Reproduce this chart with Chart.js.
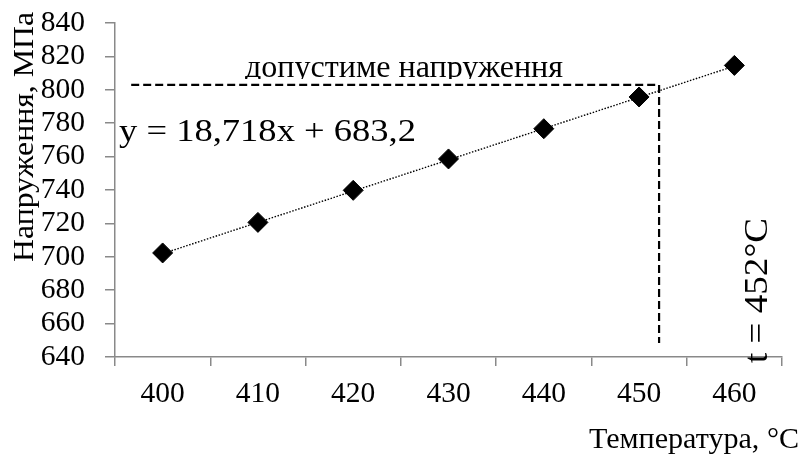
<!DOCTYPE html>
<html>
<head>
<meta charset="utf-8">
<script src="https://cdn.jsdelivr.net/npm/chart.js@4"></script>
<style>
  html, body { margin: 0; padding: 0; background: #fff; }
  #wrap { width: 803px; height: 455px; }
</style>
</head>
<body>
<div id="wrap"><canvas id="c" width="803" height="455"></canvas></div>
<script>
// ---- data ----
const temperatures = [400, 410, 420, 430, 440, 450, 460];
const tickLabels = ['400', '410', '420', '430', '440', '450', '460'];
const stresses = [702.3, 720.6, 739.8, 758.6, 776.7, 795.7, 814.6];
const trendX = [400, 460];
const trendY = [701.9, 814.2];
const allowX = [396.7, 452.1, 452.1];
const allowY = [803, 803, 648.4];
const yTitle = 'Напруження, МПа';
const xTitle = 'Температура, °C';
const equationText = 'y = 18,718x + 683,2';
const allowText = 'допустиме напруження';
const tText = 't = 452°C';

const FONT = '"Liberation Serif", "Times New Roman", serif';
const AXIS = '#898989';

const pts = (xs, ys) => xs.map((x, i) => ({ x: x, y: ys[i] }));

// draw text with a horizontal stretch so that it spans the given length
function fitText(ctx, text, size, length) {
  ctx.font = size + 'px ' + FONT;
  const w = ctx.measureText(text).width;
  const k = length / w;
  ctx.scale(k, 1);
  ctx.fillText(text, 0, 0);
}

const annot = {
  id: 'annot',
  afterDraw(chart) {
    const ctx = chart.ctx;
    ctx.save();
    ctx.fillStyle = '#000';
    ctx.textBaseline = 'alphabetic';
    ctx.textAlign = 'left';
    // y axis title (reads bottom to top)
    ctx.save();
    ctx.translate(33, 262);
    ctx.rotate(-Math.PI / 2);
    fitText(ctx, yTitle, 30, 250);
    ctx.restore();
    // x axis title
    ctx.save();
    ctx.translate(589, 448);
    fitText(ctx, xTitle, 30, 210);
    ctx.restore();
    // equation
    ctx.save();
    ctx.translate(119, 141);
    fitText(ctx, equationText, 31, 297);
    ctx.restore();
    // allowable stress label (clipped at bottom like the reference)
    ctx.save();
    ctx.beginPath();
    ctx.rect(200, 40, 420, 39);
    ctx.clip();
    ctx.translate(245, 77);
    fitText(ctx, allowText, 31, 318);
    ctx.restore();
    // t label
    ctx.save();
    ctx.translate(767, 363);
    ctx.rotate(-Math.PI / 2);
    fitText(ctx, tText, 33, 145);
    ctx.restore();
    ctx.restore();
  }
};

new Chart(document.getElementById('c'), {
  type: 'scatter',
  data: {
    datasets: [
      {
        label: 'stress',
        data: pts(temperatures, stresses),
        xAxisID: 'xl',
        pointStyle: 'rectRot',
        pointRadius: 10,
        pointBackgroundColor: '#000',
        pointBorderColor: '#000',
        pointBorderWidth: 1,
        showLine: false
      },
      {
        label: 'trend',
        data: pts(trendX, trendY),
        xAxisID: 'xl',
        showLine: true,
        borderColor: '#000',
        borderWidth: 1.4,
        borderDash: [1.5, 1.6],
        pointRadius: 0
      },
      {
        label: 'allow',
        data: pts(allowX, allowY),
        xAxisID: 'xl',
        showLine: true,
        borderColor: '#000',
        borderWidth: 2.2,
        borderDash: [8, 4],
        pointRadius: 0,
        tension: 0
      }
    ]
  },
  options: {
    responsive: false,
    animation: false,
    devicePixelRatio: 1,
    layout: { padding: { top: 23, right: 21, left: 0, bottom: 0 } },
    plugins: { legend: { display: false }, tooltip: { enabled: false } },
    scales: {
      x: {
        type: 'category',
        labels: tickLabels,
        position: 'bottom',
        offset: true,
        grid: { offset: true, drawOnChartArea: false, tickLength: 9, color: AXIS, lineWidth: 1.5 },
        border: { color: AXIS, width: 1.5 },
        ticks: { color: '#000', font: { family: FONT, size: 29.5 }, padding: 11, maxRotation: 0, autoSkip: false },
        afterFit: s => { s.height = 98; s.paddingLeft = 0; s.paddingRight = 0; }
      },
      xl: {
        type: 'linear',
        display: false,
        min: 395,
        max: 465
      },
      y: {
        type: 'linear',
        min: 640,
        max: 840,
        ticks: { stepSize: 20, autoSkip: false, color: '#000', font: { family: FONT, size: 29.5 }, padding: 20 },
        grid: { drawOnChartArea: false, tickLength: 10, color: AXIS, lineWidth: 1.5 },
        border: { color: AXIS, width: 1.5 },
        afterFit: s => { s.width = 115; s.paddingTop = 0; s.paddingBottom = 0; }
      }
    }
  },
  plugins: [annot]
});
</script>
</body>
</html>
